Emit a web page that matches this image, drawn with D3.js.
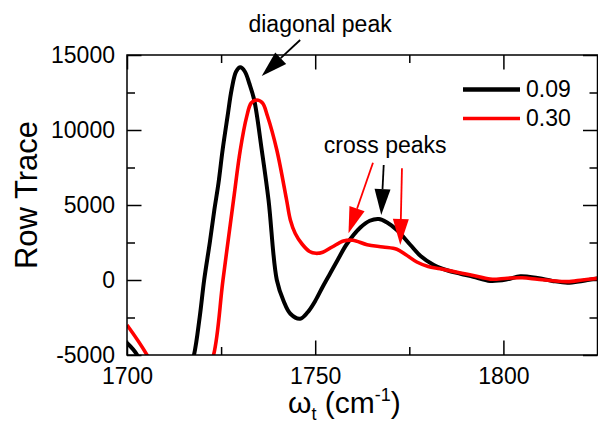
<!DOCTYPE html>
<html><head><meta charset="utf-8">
<script src="https://cdn.jsdelivr.net/npm/d3@7"></script>
<style>
html,body{margin:0;padding:0;background:#fff;}
text{font-family:"Liberation Sans",Arial,sans-serif;fill:#000;}
</style></head>
<body><svg id="chart" width="598" height="423"></svg>
<script>
// ---- data ----
const blackX = [1700,1702.7,1706,1710,1714,1716,1717.8,1719.3,1720.5,1722,1723.2,1724.3,1725.4,1726.7,1727.8,1729,1730.1,1731.3,1732.5,1733.8,1735.8,1737.6,1739.8,1741.6,1743.4,1746,1748,1750,1752,1754,1756,1758.4,1762,1764.5,1766.9,1769,1771.7,1775.3,1778,1781.5,1785,1788.6,1792,1796.5,1801,1804.5,1809,1813,1817,1821,1825];
const blackY = [-4200,-5000,-7200,-9000,-8000,-6500,-5000,-2500,0,2500,4667,6444,8667,10889,12700,13900,14180,13900,13100,12000,8667,5333,0,-1400,-2250,-2580,-2150,-1400,-450,450,1350,2400,3500,3950,4067,3850,3333,2333,1600,1000,650,420,220,-60,40,250,130,-60,-180,-60,110];
const redX = [1700,1705.3,1710,1715,1720,1723,1725.5,1728.3,1730.1,1731.8,1733,1734.5,1736,1737.3,1739.8,1742.4,1743.4,1744.7,1746.5,1748.5,1750.2,1752,1754.5,1757.5,1760,1763.8,1768,1771.7,1774,1777,1780,1783.2,1788.6,1792,1796.5,1801,1805,1809,1813,1817,1821,1825];
const redY = [-3000,-5000,-7500,-8500,-7000,-5000,0,5333,8667,10889,11800,12000,11800,10950,8667,5333,4000,3100,2400,1900,1780,1850,2200,2600,2650,2350,2200,2050,1700,1200,900,750,470,300,60,120,150,50,-50,-110,0,110];
const seriesNames = ["0.09","0.30"];
const seriesColors = ["#000000","#ff0000"];
const xMajorTicks = [1700,1750,1800];
const xMinorTicks = [1725,1775,1825];
const yMajorTicks = [-5000,0,5000,10000,15000];
const yMinorTicks = [-2500,2500,7500,12500];
// annotations in data coordinates: [x0,y0,x1,y1,color]
const arrows = [
  [1746.0,16000,1735.8,13600,"#000000"],
  [1768.2,7667,1767.55,4333,"#000000"],
  [1765.35,7820,1758.85,3113,"#ff0000"],
  [1773.05,7447,1772.6,2333,"#ff0000"]
];
const annoTexts = [
  ["diagonal peak",1751.3,16550],
  ["cross peaks",1768.6,8450]
];

// ---- layout ----
const svg = d3.select("#chart");
const L=127, R=597.5, T=55, B=355;
const x = d3.scaleLinear().domain([1700,1825]).range([L,R]);
const y = d3.scaleLinear().domain([-5000,15000]).range([B,T]);

svg.append("rect").attr("width",598).attr("height",423).attr("fill","#fff");

svg.append("defs").append("clipPath").attr("id","clip")
  .append("rect").attr("x",L).attr("y",T).attr("width",R-L).attr("height",B-T);

// axes
const fmt = d => String(d);
function styleAxis(g){ g.select(".domain").remove(); g.selectAll(".tick line").attr("stroke","#000").attr("stroke-width",1.5); g.selectAll("text").attr("font-size",23).attr("font-family","Liberation Sans, Arial, sans-serif").attr("fill","#000"); }
svg.append("g").attr("transform",`translate(0,${B})`).call(d3.axisBottom(x).tickValues(xMajorTicks).tickSize(-14.5).tickPadding(12.5).tickFormat(fmt)).call(styleAxis);
svg.append("g").attr("transform",`translate(0,${B})`).call(d3.axisBottom(x).tickValues(xMinorTicks).tickSize(-8).tickFormat("")).call(styleAxis);
svg.append("g").attr("transform",`translate(0,${T})`).call(d3.axisTop(x).tickValues(xMajorTicks).tickSize(-14.5).tickFormat("")).call(styleAxis);
svg.append("g").attr("transform",`translate(0,${T})`).call(d3.axisTop(x).tickValues(xMinorTicks).tickSize(-8).tickFormat("")).call(styleAxis);
svg.append("g").attr("transform",`translate(${L},0)`).call(d3.axisLeft(y).tickValues(yMajorTicks).tickSize(-14.5).tickPadding(12).tickFormat(fmt)).call(styleAxis);
svg.append("g").attr("transform",`translate(${L},0)`).call(d3.axisLeft(y).tickValues(yMinorTicks).tickSize(-8).tickFormat("")).call(styleAxis);
svg.append("g").attr("transform",`translate(${R},0)`).call(d3.axisRight(y).tickValues(yMajorTicks).tickSize(-14.5).tickFormat("")).call(styleAxis);
svg.append("g").attr("transform",`translate(${R},0)`).call(d3.axisRight(y).tickValues(yMinorTicks).tickSize(-8).tickFormat("")).call(styleAxis);

// curves
const line = d3.line().x(d=>x(d[0])).y(d=>y(d[1])).curve(d3.curveCatmullRom.alpha(0.5));
const series = [d3.zip(blackX,blackY), d3.zip(redX,redY)];
const plot = svg.append("g").attr("clip-path","url(#clip)");
series.forEach((s,i)=>{
  plot.append("path").datum(s).attr("d",line).attr("fill","none")
    .attr("stroke",seriesColors[i]).attr("stroke-width",i===0?4:3.6).attr("stroke-linejoin","round");
});

// frame
svg.append("rect").attr("x",L).attr("y",T).attr("width",R-L).attr("height",B-T)
  .attr("fill","none").attr("stroke","#000").attr("stroke-width",1.5);

// legend
const legY = [89.5,118.5];
seriesNames.forEach((n,i)=>{
  svg.append("line").attr("x1",463).attr("x2",520).attr("y1",legY[i]).attr("y2",legY[i])
    .attr("stroke",seriesColors[i]).attr("stroke-width",i===0?4.5:3.6);
  svg.append("text").attr("x",526).attr("y",legY[i]+7.5).attr("font-size",23).text(n);
});

// arrows
arrows.forEach(a=>{
  const x0=x(a[0]),y0=y(a[1]),x1=x(a[2]),y1=y(a[3]);
  const dx=x1-x0, dy=y1-y0, len=Math.hypot(dx,dy), ux=dx/len, uy=dy/len;
  const hl=26, hw=8;
  const bx=x1-ux*hl, by=y1-uy*hl;
  svg.append("line").attr("x1",x0).attr("y1",y0).attr("x2",bx).attr("y2",by)
    .attr("stroke",a[4]).attr("stroke-width",1.8);
  svg.append("path").attr("d",`M${x1},${y1}L${bx-uy*hw},${by+ux*hw}L${bx+uy*hw},${by-ux*hw}Z`)
    .attr("fill",a[4]);
});
annoTexts.forEach(t=>{
  svg.append("text").attr("x",x(t[1])).attr("y",y(t[2])).attr("text-anchor","middle")
    .attr("font-size",23).text(t[0]);
});

// axis titles
svg.append("text").attr("transform","translate(37,195) rotate(-90)").attr("text-anchor","middle")
  .attr("font-size",31).text("Row Trace");
const xt = svg.append("text").attr("x",288).attr("y",413).attr("font-size",30);
xt.append("tspan").text("ω");
xt.append("tspan").attr("font-size",18).attr("dy",7).text("t");
xt.append("tspan").attr("dy",-7).text(" (cm");
xt.append("tspan").attr("font-size",18).attr("dy",-12).text("-1");
xt.append("tspan").attr("dy",12).text(")");
</script></body></html>
